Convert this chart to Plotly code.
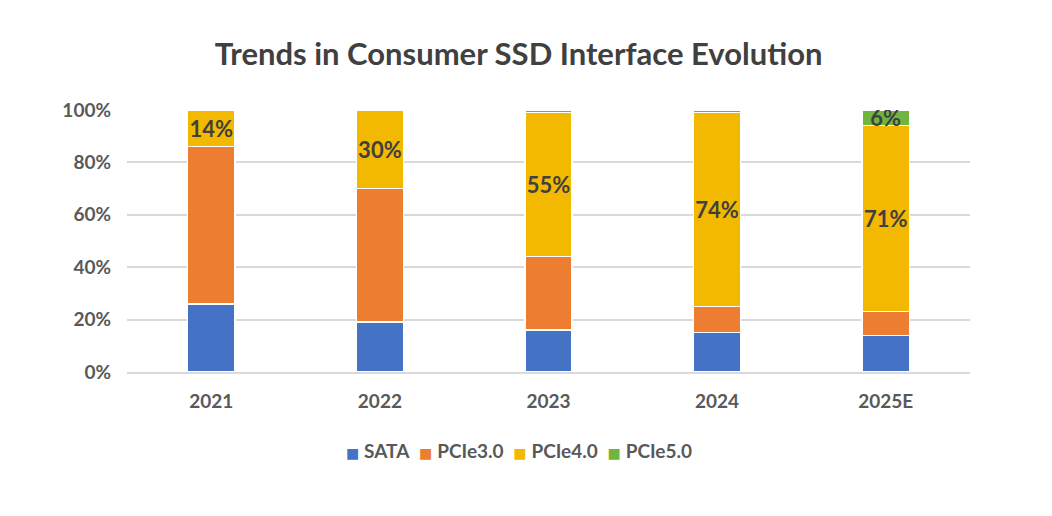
import plotly.graph_objects as go

years = ["2021", "2022", "2023", "2024", "2025E"]
sata = [26, 19, 16, 15, 14]
pcie3 = [60, 51, 28, 10, 9]
pcie4 = [14, 30, 55, 74, 71]
pcie5 = [0, 0, 1, 1, 6]
pcie4_labels = ["14%", "30%", "55%", "74%", "71%"]
pcie5_labels = ["", "", "", "", "6%"]

colors = {"SATA": "#4472C4", "PCIe3.0": "#ED7D31", "PCIe4.0": "#F2B900", "PCIe5.0": "#70B542"}
FONT = "Lato, 'Open Sans', sans-serif"

fig = go.Figure()
series = [("SATA", sata, None), ("PCIe3.0", pcie3, None),
          ("PCIe4.0", pcie4, pcie4_labels), ("PCIe5.0", pcie5, pcie5_labels)]
for name, vals, labels in series:
    fig.add_trace(go.Bar(
        x=years, y=vals, name=name,
        marker=dict(color=colors[name], line=dict(color="white", width=1.5)),
        text=labels if labels else None,
        textposition="inside" if labels else "none",
        insidetextanchor="middle",
        textangle=0,
        textfont=dict(family=FONT, size=22, color="#404040", weight="bold"),
        constraintext="none",
        hoverinfo="name+y",
        showlegend=False,
    ))

# compact legend built from the series names and colours
legend_html = "&nbsp;&nbsp;".join(
    f"<span style='color:{colors[n]}; font-family:DejaVu Sans; font-size:14px'>■</span> <b>{n}</b>"
    for n, _, _ in series
)
fig.add_annotation(text=legend_html, xref="paper", yref="paper", x=0.465, y=-0.298,
                   xanchor="center", yanchor="middle", showarrow=False,
                   font=dict(family=FONT, size=19, color="#595959"))

fig.update_layout(
    barmode="stack",
    bargap=0.72,
    width=1052, height=516,
    margin=dict(l=127, r=82, t=110, b=144),
    paper_bgcolor="white", plot_bgcolor="white",
    font=dict(family=FONT, color="#595959"),
    title=dict(text="<b>Trends in Consumer SSD Interface Evolution</b>",
               x=0.493, xanchor="center", y=0.895, yanchor="middle",
               font=dict(family=FONT, size=31, color="#404040")),
)
fig.update_yaxes(range=[0, 100], dtick=20, ticksuffix="%",
                 gridcolor="#D9D9D9", gridwidth=1.5, zeroline=False,
                 tickfont=dict(family=FONT, size=19, color="#595959", weight="bold"),
                 ticks="", ticklabelstandoff=15, showline=False)
fig.update_xaxes(showline=True, linecolor="#D9D9D9", linewidth=1.5,
                 tickfont=dict(family=FONT, size=19, color="#595959", weight="bold"),
                 ticks="", ticklabelstandoff=11)

fig.write_html("out.html")
